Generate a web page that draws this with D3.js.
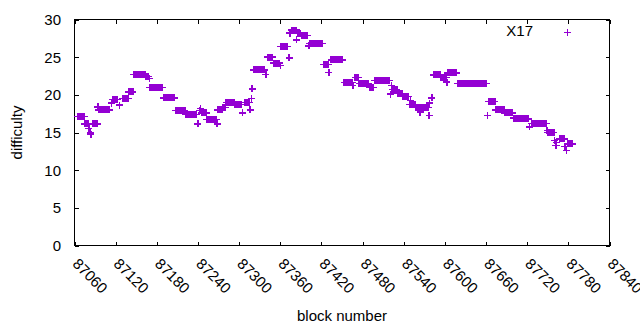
<!DOCTYPE html>
<html>
<head>
<meta charset="utf-8">
<script src="https://cdn.jsdelivr.net/npm/d3@7"></script>
<style>
    body { margin: 0; background: #fff; }
    text { font-family: "Liberation Sans", Arial, sans-serif; fill: #000; }
</style>
</head>
<body>
<div id="chart"></div>
<script>
// runs of blocks that share the same difficulty
const runStart = [87065, 87075, 87081, 87083, 87084, 87086, 87094, 87095, 87114, 87116,
    87126, 87130, 87139, 87146, 87164, 87169, 87170, 87190, 87207, 87222,
    87240, 87242, 87244, 87245, 87253, 87268, 87269, 87276, 87281, 87294,
    87305, 87308, 87316, 87318, 87319, 87321, 87339, 87341, 87350, 87360,
    87361, 87373, 87374, 87376, 87384, 87385, 87391, 87401, 87403, 87423,
    87431, 87434, 87453, 87466, 87469, 87475, 87490, 87498, 87521, 87522,
    87523, 87531, 87539, 87548, 87550, 87551, 87558, 87564, 87565, 87577,
    87578, 87581, 87584, 87594, 87603, 87604, 87619, 87662, 87664, 87674,
    87687, 87700, 87708, 87723, 87726, 87749, 87750, 87760, 87761, 87762,
    87763, 87767, 87775, 87777, 87779];
const runEnd = [87074, 87080, 87081, 87083, 87084, 87093, 87094, 87111, 87114, 87123,
    87126, 87138, 87145, 87163, 87168, 87169, 87188, 87206, 87221, 87238,
    87240, 87242, 87244, 87252, 87267, 87268, 87275, 87280, 87293, 87303,
    87305, 87315, 87316, 87318, 87319, 87337, 87339, 87348, 87359, 87360,
    87370, 87373, 87374, 87383, 87384, 87389, 87400, 87402, 87421, 87430,
    87431, 87450, 87465, 87466, 87474, 87489, 87496, 87519, 87521, 87522,
    87530, 87538, 87547, 87549, 87550, 87557, 87563, 87564, 87576, 87577,
    87578, 87581, 87593, 87602, 87603, 87617, 87661, 87662, 87673, 87686,
    87699, 87707, 87722, 87723, 87748, 87749, 87759, 87760, 87761, 87762,
    87763, 87774, 87775, 87777, 87786];
const runDifficulty = [17.1, 16.15, 15.5, 14.95, 14.7, 16.15, 18.4, 18.0, 18.9, 19.4,
    18.65, 19.5, 20.4, 22.7, 22.4, 22.2, 20.95, 19.6, 17.9, 17.4,
    16.15, 17.9, 18.15, 17.6, 16.7, 16.15, 18.0, 18.35, 18.95, 18.7,
    17.6, 18.95, 18.0, 19.55, 20.8, 23.3, 22.7, 25.0, 24.2, 23.9,
    26.4, 24.9, 28.2, 28.6, 27.3, 28.2, 27.9, 26.5, 26.8, 24.0,
    23.0, 24.65, 21.6, 21.2, 22.3, 21.5, 21.0, 21.9, 20.1, 21.2,
    20.7, 20.2, 19.8, 18.75, 19.25, 18.75, 18.35, 17.7, 18.35, 17.25,
    18.9, 19.6, 22.65, 22.3, 21.7, 22.9, 21.5, 17.25, 19.1, 18.0,
    17.6, 16.9, 16.8, 15.75, 16.2, 15.3, 15.0, 13.9, 13.3, 13.7,
    13.3, 14.15, 13.15, 12.6, 13.5];

const xTicks = [87060, 87120, 87180, 87240, 87300, 87360, 87420, 87480, 87540, 87600, 87660, 87720, 87780, 87840];
const yTicks = [0, 5, 10, 15, 20, 25, 30];
const seriesName = 'X17';

let points = [];
runStart.forEach((start, i) => {
    for (let b = start; b <= runEnd[i]; b++) {
        points.push({ block: b, difficulty: runDifficulty[i] })
    }
})

const chartWidth = 640, chartHeight = 330;
const plot = { left: 74.5, right: 609.5, top: 19.5, bottom: 245.5 };
const color = '#9400d3';

const svg = d3.select('#chart').append('svg')
    .attr('width', chartWidth)
    .attr('height', chartHeight);

const xScale = d3.scaleLinear().domain([87060, 87840]).range([plot.left, plot.right]);
const yScale = d3.scaleLinear().domain([0, 30]).range([plot.bottom, plot.top]);

// border with inward ticks, mirrored on all sides
svg.append('rect')
    .attr('x', plot.left).attr('y', plot.top)
    .attr('width', plot.right - plot.left).attr('height', plot.bottom - plot.top)
    .attr('fill', 'none').attr('stroke', '#000')
    .attr('shape-rendering', 'crispEdges');

let addAxis = (axis, tx, ty) => {
    let g = svg.append('g')
        .attr('transform', `translate(${tx}, ${ty})`)
        .call(axis.tickSizeInner(-4).tickSizeOuter(0).tickFormat(''));
    g.select('.domain').remove();
    g.selectAll('.tick line').attr('shape-rendering', 'crispEdges');
}

addAxis(d3.axisBottom(xScale).tickValues(xTicks), 0, plot.bottom);
addAxis(d3.axisTop(xScale).tickValues(xTicks), 0, plot.top);
addAxis(d3.axisLeft(yScale).tickValues(yTicks), plot.left, 0);
addAxis(d3.axisRight(yScale).tickValues(yTicks), plot.right, 0);

// tick labels
svg.append('g').selectAll('text')
    .data(yTicks).enter()
    .append('text')
    .attr('x', 61)
    .attr('y', d => yScale(d))
    .attr('dy', '0.36em')
    .attr('text-anchor', 'end')
    .style('font-size', '15px')
    .text(d => d);

svg.append('g').selectAll('text')
    .data(xTicks).enter()
    .append('text')
    .attr('transform', d => `translate(${xScale(d) + 1}, 261) rotate(45)`)
    .attr('dy', '0.36em')
    .style('font-size', '15px')
    .text(d => d);

svg.append('text')
    .attr('transform', `translate(22, ${(plot.top + plot.bottom) / 2}) rotate(-90)`)
    .attr('text-anchor', 'middle')
    .style('font-size', '15px')
    .text('difficulty');

svg.append('text')
    .attr('x', (plot.left + plot.right) / 2)
    .attr('y', 321)
    .attr('text-anchor', 'middle')
    .style('font-size', '15px')
    .text('block number');

// points
const plus = 'M-3.5,0H3.5M0,-3.5V3.5';

svg.append('g')
    .selectAll('path')
    .data(points).enter()
    .append('path')
    .attr('transform', d => `translate(${xScale(d.block)}, ${yScale(d.difficulty)})`)
    .attr('d', plus)
    .attr('stroke', color)
    .attr('stroke-width', 1.4)
    .attr('fill', 'none')
    .attr('shape-rendering', 'crispEdges');

// key
svg.append('text')
    .attr('x', 533)
    .attr('y', 31)
    .attr('dy', '0.36em')
    .attr('text-anchor', 'end')
    .style('font-size', '15px')
    .text(seriesName);

svg.append('path')
    .attr('transform', 'translate(567.5, 32.5)')
    .attr('d', plus)
    .attr('stroke', color)
    .attr('stroke-width', 1.4)
    .attr('fill', 'none')
    .attr('shape-rendering', 'crispEdges');
</script>
</body>
</html>
